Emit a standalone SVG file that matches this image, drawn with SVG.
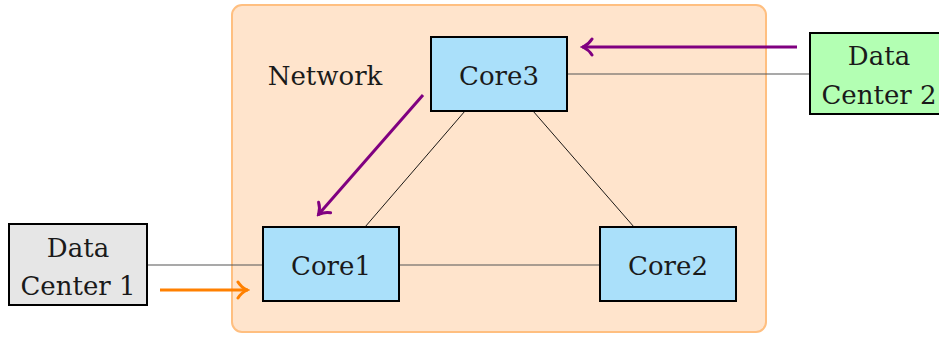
<svg xmlns="http://www.w3.org/2000/svg" width="939" height="337" viewBox="0 0 939 337">
  <style>
    text { font-family: 'DejaVu Serif', serif; font-size: 26px; fill: #1a1a1a; text-anchor: middle; }
    .core { fill: #aae0fa; stroke: #000; stroke-width: 2; }
    .link { stroke: #555; stroke-width: 1.2; fill: none; }
    .thin { stroke: #000; stroke-width: 0.9; fill: none; }
    .flow { stroke-width: 3; fill: none; }
  </style>
  <defs>
    <marker id="toPurple" viewBox="-10 -10 14 20" markerWidth="14" markerHeight="20" refX="2" refY="0" orient="auto" markerUnits="userSpaceOnUse">
      <path d="M-8,-8 C-5,-3 -1,-1 1,0 C-1,1 -5,3 -8,8" fill="none" stroke="#800080" stroke-width="3" stroke-linecap="round"/>
    </marker>
    <marker id="toOrange" viewBox="-10 -10 14 20" markerWidth="14" markerHeight="20" refX="2" refY="0" orient="auto" markerUnits="userSpaceOnUse">
      <path d="M-8,-8 C-5,-3 -1,-1 1,0 C-1,1 -5,3 -8,8" fill="none" stroke="#ff8000" stroke-width="3" stroke-linecap="round"/>
    </marker>
  </defs>

  <!-- network region -->
  <g id="network">
    <rect x="232" y="5" width="534" height="327" rx="10" fill="#ffe4cc" stroke="#ffbf80" stroke-width="2"/>
    <text x="325" y="85">Network</text>
  </g>

  <!-- connectors -->
  <g id="connectors">
    <line class="link" x1="147" y1="265" x2="263" y2="265"/>
    <line class="link" x1="399" y1="265" x2="600" y2="265"/>
    <line class="link" x1="567" y1="74" x2="810" y2="74"/>
    <line class="thin" x1="365" y1="227" x2="465" y2="111"/>
    <line class="thin" x1="533" y1="111" x2="634" y2="227"/>
    <line class="flow" stroke="#ff8000" x1="160" y1="290" x2="248" y2="290" marker-end="url(#toOrange)"/>
    <line class="flow" stroke="#800080" x1="797" y1="47" x2="582" y2="47" marker-end="url(#toPurple)"/>
    <line class="flow" stroke="#800080" x1="423" y1="95" x2="318" y2="215" marker-end="url(#toPurple)"/>
  </g>

  <g id="core3">
    <rect class="core" x="431" y="37" width="136" height="74"/>
    <text x="499" y="85">Core3</text>
  </g>
  <g id="core1">
    <rect class="core" x="263" y="227" width="136" height="74"/>
    <text x="331" y="275">Core1</text>
  </g>
  <g id="core2">
    <rect class="core" x="600" y="227" width="136" height="74"/>
    <text x="668" y="275">Core2</text>
  </g>
  <g id="dc1">
    <rect x="9" y="224" width="138" height="81" fill="#e6e6e6" stroke="#000" stroke-width="2"/>
    <text x="78" y="257">Data</text>
    <text x="78" y="295">Center 1</text>
  </g>
  <g id="dc2">
    <rect x="810" y="33" width="140" height="81" fill="#b3ffb3" stroke="#000" stroke-width="2"/>
    <text x="879" y="65">Data</text>
    <text x="879" y="104">Center 2</text>
  </g>
</svg>
